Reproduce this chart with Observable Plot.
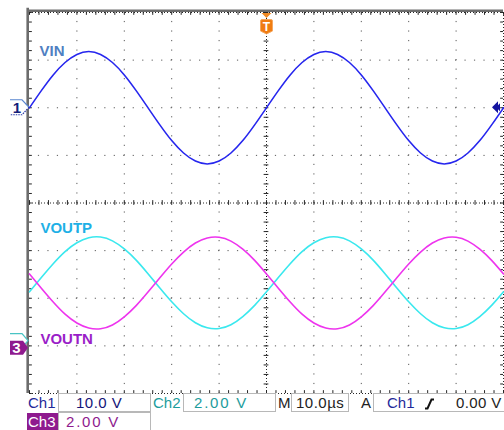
<!DOCTYPE html>
<html><head><meta charset="utf-8">
<script src="https://cdn.jsdelivr.net/npm/d3@7"></script>
<script src="https://cdn.jsdelivr.net/npm/@observablehq/plot@0.6"></script>
<style>
html,body{margin:0;padding:0;background:#fff;}
#wrap{position:relative;width:504px;height:430px;overflow:hidden;font-family:"Liberation Sans",Arial,sans-serif;}
#chart{position:absolute;left:0;top:0;}
.t{position:absolute;font-size:15px;line-height:15px;white-space:pre;}
.box{position:absolute;border:1px solid #b8b8b8;box-sizing:border-box;background:#fff;}
</style></head><body><div id="wrap"><div id="chart"></div></div>
<script>
// ---- data (time in µs, values in volts) ----
const timeUs = [-50, -47.5, -45, -42.5, -40, -37.5, -35, -32.5, -30, -27.5, -25, -22.5, -20, -17.5, -15, -12.5, -10, -7.5, -5, -2.5, 0,
  2.5, 5, 7.5, 10, 12.5, 15, 17.5, 20, 22.5, 25, 27.5, 30, 32.5, 35, 37.5, 40, 42.5, 45, 47.5, 50];
const vin = [0, 3.6, 6.9, 9.5, 11.2, 11.8, 11.2, 9.5, 6.9, 3.6, 0, -3.6, -6.9, -9.5, -11.2, -11.8, -11.2, -9.5, -6.9, -3.6, 0,
  3.6, 6.9, 9.5, 11.2, 11.8, 11.2, 9.5, 6.9, 3.6, 0, -3.6, -6.9, -9.5, -11.2, -11.8, -11.2, -9.5, -6.9, -3.6, 0];
const voutp = [2.07, 2.67, 3.25, 3.76, 4.13, 4.34, 4.37, 4.21, 3.87, 3.40, 2.83, 2.23, 1.65, 1.15, 0.77, 0.56, 0.53, 0.69, 1.03, 1.50, 2.07,
  2.67, 3.25, 3.76, 4.13, 4.34, 4.37, 4.21, 3.87, 3.40, 2.83, 2.23, 1.65, 1.15, 0.77, 0.56, 0.53, 0.69, 1.03, 1.50, 2.07];
const voutn = [3.12, 2.52, 1.94, 1.43, 1.06, 0.85, 0.82, 0.98, 1.32, 1.79, 2.36, 2.96, 3.54, 4.04, 4.42, 4.63, 4.66, 4.50, 4.16, 3.69, 3.12,
  2.52, 1.94, 1.43, 1.06, 0.85, 0.82, 0.98, 1.32, 1.79, 2.36, 2.96, 3.54, 4.04, 4.42, 4.63, 4.66, 4.50, 4.16, 3.69, 3.12];
const seriesNames = ["VIN", "VOUTP", "VOUTN"];
const channelNames = ["Ch1", "Ch2", "Ch3"];
const voltsPerDiv = [10, 2, 2];
const scaleLabels = ["10.0 V", "2.00 V", "2.00 V"];
const timebaseLabel = "10.0µs";
const triggerLabel = "0.00 V";
const triggerLevel = 0;

// ---- scope settings (positions in divisions, styles) ----
const groundDiv = [2.0, -2.9, -3.05];
const traceColors = ["#2626ee", "#3ae8ee", "#ee34ee"];
const labelColors = ["#4f7fc2", "#1eb0e6", "#9a1ec8"];
const labelPos = [[-47.9, 3.18], [-47.7, -0.53], [-47.7, -2.85]];

const seriesValues = [vin, voutp, voutn];
const traces = seriesNames.flatMap((name, i) =>
  timeUs.map((t, k) => ({t, v: seriesValues[i][k], ch: i, name})));
const labels = seriesNames.map((name, i) => ({name, x: labelPos[i][0], y: labelPos[i][1], color: labelColors[i]}));

const majorX = d3.range(-40, 41, 10).filter(v => v !== 0);
const majorY = d3.range(-3, 4, 1).filter(v => v !== 0);
const minorX = d3.range(-50, 50.001, 2);
const minorY = d3.range(-20, 21).map(i => i / 5);
const dotC = "#5a5a5a", tickC = "#262626";

function triggerMarker(index, scales) {
  const x = Math.round(scales.x(0)) + 0.5, y0 = scales.y(4);
  const g = d3.create("svg:g");
  g.append("path").attr("d", `M${x-5},${y0+1}L${x+5},${y0+1}L${x},${y0+6}Z`).attr("fill", "#f08a24");
  g.append("path").attr("d", `M${x-6},${y0+9}q0,-1.5 1.5,-1.5h9q1.5,0 1.5,1.5v10l-6,3l-6,-3z`)
    .attr("fill", "#f07c12").attr("stroke", "#f6a860").attr("stroke-width", 1);
  g.append("text").attr("x", x).attr("y", y0 + 18.5).attr("text-anchor", "middle").attr("fill", "white")
    .attr("font-weight", "bold").attr("font-size", 12).attr("font-family", "Liberation Sans, Arial").text("T");
  return g.node();
}

function channelMarkers(index, scales) {
  const g = d3.create("svg:g");
  const xl = scales.x(-50);
  // Ch2 (outline, partly hidden)
  const y2 = scales.y(groundDiv[1]);
  g.append("path").attr("d", `M${xl-19},${y2-7}H${xl-7}L${xl-1},${y2}L${xl-7},${y2+7}H${xl-19}`)
    .attr("fill", "#fff").attr("stroke", "#48c4c4").attr("stroke-width", 1.2);
  // Ch3 (filled)
  const y3 = scales.y(groundDiv[2]);
  g.append("path").attr("d", `M${xl-19},${y3-7}H${xl-6}L${xl-1},${y3}L${xl-6},${y3+7}H${xl-19}Z`)
    .attr("fill", "#8e1a8e");
  g.append("text").attr("x", xl - 12.5).attr("y", y3 + 5.5).attr("text-anchor", "middle").attr("fill", "white")
    .attr("font-weight", "bold").attr("font-size", 15).attr("font-family", "Liberation Sans, Arial").text("3");
  // Ch1 (outline)
  const y1 = scales.y(groundDiv[0]);
  g.append("path").attr("d", `M${xl-19},${y1-7.5}H${xl-7}L${xl},${y1}L${xl-7},${y1+7.5}H${xl-19}Z`)
    .attr("fill", "#fff").attr("stroke", "none");
  g.append("path").attr("d", `M${xl-19},${y1-7.5}H${xl-7}L${xl},${y1}`).attr("fill", "none").attr("stroke", "#5a86d0").attr("stroke-width", 1.2);
  g.append("path").attr("d", `M${xl},${y1}L${xl-7},${y1+7.5}H${xl-19}`).attr("fill", "none").attr("stroke", "#2a3aa8")
    .attr("stroke-width", 1.2).attr("stroke-dasharray", "1.5 1");
  g.append("text").attr("x", xl - 12).attr("y", y1 + 5.5).attr("text-anchor", "middle").attr("fill", "#12207a")
    .attr("font-weight", "bold").attr("font-size", 15).attr("font-family", "Liberation Sans, Arial").text("1");
  // Trigger level arrow at right edge
  const xr = scales.x(50), yt = scales.y(triggerLevel / voltsPerDiv[0] + groundDiv[0]);
  g.append("path").attr("d", `M${xr-11},${yt}L${xr-5},${yt-6}L${xr-5},${yt-2}L${xr-3},${yt-4}L${xr-3},${yt+4}L${xr-5},${yt+2}L${xr-5},${yt+6}Z`)
    .attr("fill", "#1414a0");
  return g.node();
}

const chart = Plot.plot({
  width: 504, height: 394,
  marginLeft: 29, marginRight: 1, marginTop: 12, marginBottom: 1,
  x: {domain: [-50, 50], axis: null},
  y: {domain: [-4, 4], axis: null},
  style: {background: "white", fontFamily: "Liberation Sans, Arial, sans-serif"},
  marks: [
    // graticule
    Plot.ruleX(majorX, {stroke: dotC, strokeDasharray: "1.2 8.325", strokeDashoffset: 0.6}),
    Plot.ruleY(majorY, {stroke: dotC, strokeDasharray: "1.2 8.28", strokeDashoffset: 0.6}),
    Plot.ruleX([0], {stroke: tickC, strokeDasharray: "1 2"}),
    Plot.ruleY([0], {stroke: tickC, strokeDasharray: "1 2"}),
    Plot.ruleY(minorY, {x1: -0.5, x2: 0.5, stroke: tickC}),
    Plot.ruleX(minorX, {y1: -0.05, y2: 0.05, stroke: tickC}),
    Plot.ruleY([4, -4], {stroke: tickC, strokeDasharray: "1 2"}),
    Plot.ruleX([50], {stroke: tickC, strokeDasharray: "1 2"}),
    Plot.ruleX(minorX, {y1: 4, y2: 3.94, stroke: tickC}),
    Plot.ruleX(minorX, {y1: -4, y2: -3.94, stroke: tickC}),
    Plot.ruleY(minorY, {x1: -50, x2: -49.4, stroke: tickC}),
    Plot.ruleY(minorY, {x1: 50, x2: 49.4, stroke: tickC}),
    // bezel
    Plot.ruleY([4], {stroke: "#6c6c6c", strokeWidth: 2.6, dy: -1.8}),
    Plot.ruleX([-50], {y1: -4, y2: 4.09, stroke: "#6c6c6c", strokeWidth: 2.6, dx: -1.8}),
    // traces
    Plot.line(traces.filter(d => d.ch === 1), {x: "t", y: d => d.v / voltsPerDiv[1] + groundDiv[1], stroke: traceColors[1], strokeWidth: 1.6, curve: "natural"}),
    Plot.line(traces.filter(d => d.ch === 2), {x: "t", y: d => d.v / voltsPerDiv[2] + groundDiv[2], stroke: traceColors[2], strokeWidth: 1.6, curve: "natural"}),
    Plot.line(traces.filter(d => d.ch === 0), {x: "t", y: d => d.v / voltsPerDiv[0] + groundDiv[0], stroke: traceColors[0], strokeWidth: 1.6, curve: "natural"}),
    // labels
    Plot.text(labels, {x: "x", y: "y", text: "name", fill: "color", textAnchor: "start", fontSize: 15, fontWeight: "bold"}),
    triggerMarker,
    channelMarkers
  ]
});
document.getElementById("chart").appendChild(chart);

// ---- status bar ----
const wrap = document.getElementById("wrap");
function add(cls, style, text) {
  const d = document.createElement("div");
  d.className = cls;
  Object.assign(d.style, style);
  if (text != null) d.textContent = text;
  wrap.appendChild(d);
  return d;
}
add("box", {left: "58px", top: "393px", width: "93px", height: "19px"});
add("box", {left: "183px", top: "393px", width: "93px", height: "19px"});
add("box", {left: "291px", top: "393px", width: "58px", height: "19px"});
add("box", {left: "373px", top: "393px", width: "140px", height: "19px"});
add("box", {left: "58px", top: "412px", width: "93px", height: "19px"});
add("t", {left: "28px", top: "395px", color: "#1f2a9a"}, channelNames[0]);
add("t", {left: "76px", top: "395px", color: "#141478", letterSpacing: "0.5px"}, scaleLabels[0]);
add("t", {left: "153px", top: "395px", color: "#1c9c9c"}, channelNames[1]);
add("t", {left: "194px", top: "395px", color: "#1c9c9c", letterSpacing: "1.8px"}, scaleLabels[1]);
add("t", {left: "278px", top: "395px", color: "#222"}, "M");
add("t", {left: "296px", top: "395px", color: "#222", letterSpacing: "0.5px"}, timebaseLabel);
add("t", {left: "361px", top: "395px", color: "#222"}, "A");
add("t", {left: "387px", top: "395px", color: "#1f2a9a"}, channelNames[0]);
add("t", {left: "456px", top: "395px", color: "#222", letterSpacing: "0.4px"}, triggerLabel);
const edge = add("t", {left: "424px", top: "397px", width: "11px", height: "12px"});
edge.innerHTML = '<svg width="11" height="12"><path d="M1,10.5H3.5L7.5,1.5H10" fill="none" stroke="#111" stroke-width="2"/></svg>';
add("t", {left: "27px", top: "413px", width: "30px", height: "17px", background: "#8e1a8e", color: "#fff", lineHeight: "17px", paddingLeft: "1px"}, channelNames[2]);
add("t", {left: "66px", top: "414px", color: "#8e1a8e", letterSpacing: "1.8px"}, scaleLabels[2]);
</script></body></html>
